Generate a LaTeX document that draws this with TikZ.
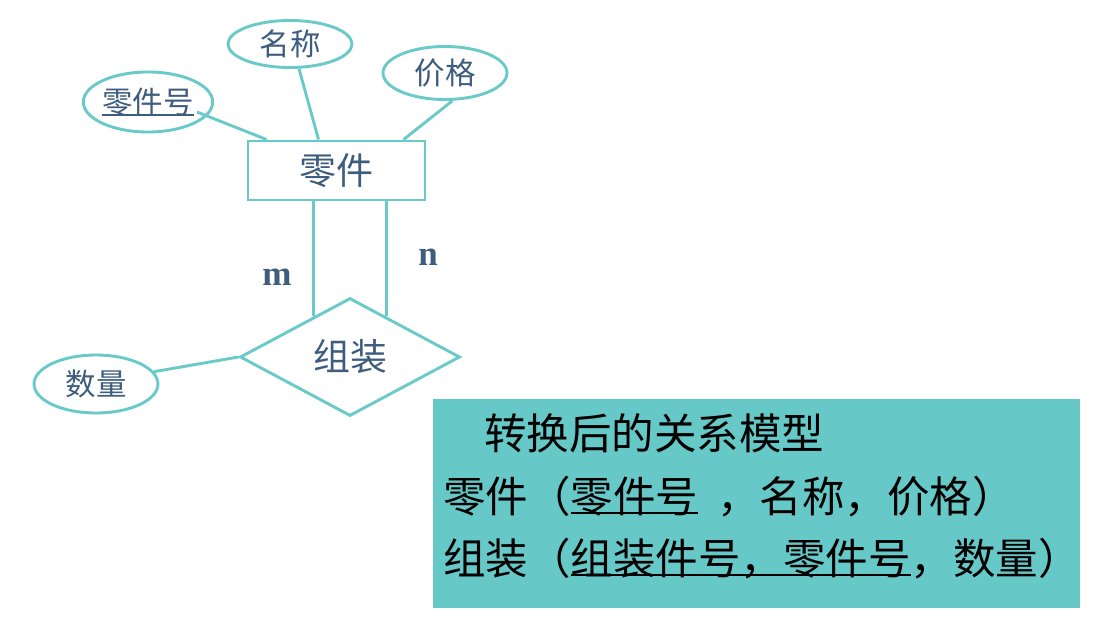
\documentclass[tikz,border=0pt]{standalone}
\usepackage{fontspec}
\newfontfamily\cjk{Noto Sans CJK SC}
\newfontfamily\tms{Liberation Serif}
\usetikzlibrary{shapes.geometric}
\definecolor{teal1}{RGB}{106,202,202}
\definecolor{boxfill}{RGB}{103,200,200}
\definecolor{ink}{RGB}{62,92,125}
\newsavebox\ulbox
\newcommand\myul[2]{\sbox\ulbox{#2}\rlap{\rule[#1]{\wd\ulbox}{1.9pt}}\usebox\ulbox}
\begin{document}
\begin{tikzpicture}[x=1pt,y=-1pt,
  attr/.style={ellipse, draw=teal1, line width=2.9pt, inner sep=0pt, text=ink, font=\cjk\fontsize{30.5}{36}\selectfont},
  entity/.style={rectangle, draw=teal1, line width=2.9pt, inner sep=0pt, text=ink, font=\cjk\fontsize{37}{44}\selectfont},
  rel/.style={diamond, draw=teal1, line width=2.9pt, inner sep=0pt, text=ink, font=\cjk\fontsize{37}{44}\selectfont},
  conn/.style={draw=teal1, line width=2.9pt},
  card/.style={text=ink, inner sep=0pt, font=\tms\bfseries\fontsize{35}{42}\selectfont},
  boxtxt/.style={text=black, inner sep=0pt, font=\cjk\fontsize{42.5}{50}\selectfont}]
\useasboundingbox (0,0) rectangle (1097,624);
\node[entity, minimum width=177, minimum height=59] (zj) at (336.5,170.5) {零件};
\node[attr, minimum width=124, minimum height=47] (mc) at (290,44) {名称};
\node[attr, minimum width=124, minimum height=53] (jg) at (445,73) {价格};
\node[attr, minimum width=128, minimum height=60] (ljh) at (148,102) {\myul{-3pt}{零件号}};
\node[rel, minimum width=220, minimum height=118] (zz) at (350,357) {组装};
\node[attr, minimum width=124, minimum height=58] (sl) at (96,384) {数量};
\node[card] (m) at (277,277) {m};
\node[card] (n) at (428,257) {n};
\draw[conn] ([shift={(49,10)}]ljh.center) -- ([xshift=20pt]zj.north west);
\draw[conn] (mc.-70) -- ([xshift=72pt]zj.north west);
\draw[conn] (jg.-75) -- ([xshift=157pt]zj.north west);
\draw[conn] (zj.south -| zz.132) -- (zz.132);
\draw[conn] (zj.south -| zz.48) -- (zz.48);
\draw[conn] (sl.12) -- (zz.west);
\node[fill=boxfill, minimum width=647, minimum height=209, inner sep=0pt, anchor=north west] (box) at (433,399) {};
\node[boxtxt, anchor=base west] (t1) at (484,449) {转换后的关系模型};
\node[boxtxt, anchor=base west] (t2) at (443,512) {零件（\myul{-1.5pt}{零件号}\hspace{19pt}，名称，价格）};
\node[boxtxt, anchor=base west] (t3) at (443,574) {组装（\myul{-1.5pt}{组装件号，零件号}，数量）};
\end{tikzpicture}
\end{document}
